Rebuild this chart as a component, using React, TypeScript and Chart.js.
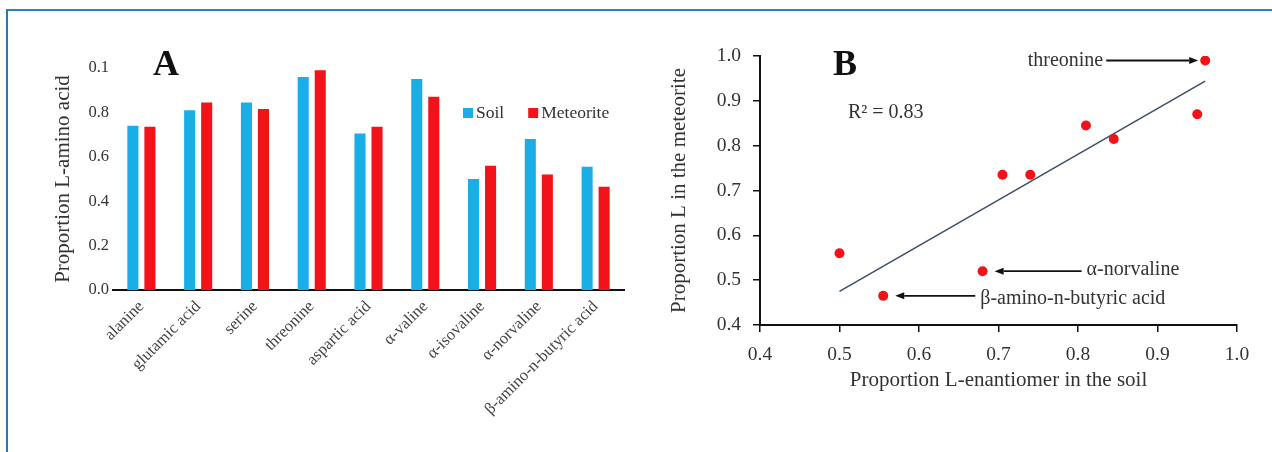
import React, { useEffect, useRef } from "react";
import { Chart, registerables } from "chart.js";

Chart.register(...registerables);

// ---------- data ----------
const categories = [
  "alanine",
  "glutamic acid",
  "serine",
  "threonine",
  "aspartic acid",
  "α-valine",
  "α-isovaline",
  "α-norvaline",
  "β-amino-n-butyric acid",
];
const soilValues = [0.74, 0.81, 0.845, 0.96, 0.705, 0.95, 0.5, 0.68, 0.555];
const meteoriteValues = [0.735, 0.845, 0.815, 0.99, 0.735, 0.87, 0.56, 0.52, 0.465];

const barTickValues = [0, 0.2, 0.4, 0.6, 0.8, 1.0];
const barTickLabels = ["0.0", "0.2", "0.4", "0.6", "0.8", "0.1"];

const scatterTickValues = [0.4, 0.5, 0.6, 0.7, 0.8, 0.9, 1.0];
const scatterTickLabels = ["0.4", "0.5", "0.6", "0.7", "0.8", "0.9", "1.0"];

const trendX = [0.5, 0.96];
const trendY = [0.475, 0.944];
const rSquaredText = "R² = 0.83";

const labeledPoints = ["threonine", "α-norvaline", "β-amino-n-butyric acid"];

// ---------- styles ----------
const SERIF = '"Liberation Serif", "Times New Roman", serif';
const SOIL_COLOR = "#1aaee6";
const MET_COLOR = "#f2121a";
const TEXT_COLOR = "#333333";

function drawArrow(ctx: CanvasRenderingContext2D, x1: number, y: number, x2: number) {
  const dir = Math.sign(x2 - x1);
  const head = 9;
  const half = 3.5;
  ctx.strokeStyle = "#111";
  ctx.fillStyle = "#111";
  ctx.lineWidth = 1.8;
  ctx.beginPath();
  ctx.moveTo(x1, y);
  ctx.lineTo(x2 - dir * head, y);
  ctx.stroke();
  ctx.beginPath();
  ctx.moveTo(x2, y);
  ctx.lineTo(x2 - dir * head, y - half);
  ctx.lineTo(x2 - dir * head, y + half);
  ctx.closePath();
  ctx.fill();
}

const panelAPlugin = {
  id: "panelA",
  afterDraw(chart: any) {
    const { ctx, chartArea } = chart;
    ctx.save();
    ctx.font = `bold 36px ${SERIF}`;
    ctx.fillStyle = "#111";
    ctx.textAlign = "center";
    ctx.textBaseline = "alphabetic";
    ctx.fillText("A", chartArea.left + 53, chartArea.top + 7);

    // legend
    const ly = chartArea.top + 45;
    const items = chart.data.datasets.map((d: any) => ({ label: d.label, color: d.backgroundColor }));
    let x = chartArea.left + 350;
    ctx.font = `17.5px ${SERIF}`;
    ctx.textAlign = "left";
    ctx.textBaseline = "middle";
    items.forEach((it: any) => {
      ctx.fillStyle = it.color;
      ctx.fillRect(x, ly - 5, 10, 10);
      ctx.fillStyle = TEXT_COLOR;
      ctx.fillText(it.label, x + 13, ly);
      x += 13 + ctx.measureText(it.label).width + 24;
    });
    ctx.restore();
  },
};

const panelBPlugin = {
  id: "panelB",
  afterDraw(chart: any) {
    const { ctx, chartArea } = chart;
    const xs = chart.scales.x;
    const ys = chart.scales.y;
    ctx.save();
    ctx.font = `bold 36px ${SERIF}`;
    ctx.fillStyle = "#111";
    ctx.textAlign = "center";
    ctx.textBaseline = "alphabetic";
    ctx.fillText("B", chartArea.left + 85, chartArea.top + 19);

    ctx.font = `20px ${SERIF}`;
    ctx.fillStyle = TEXT_COLOR;
    ctx.textAlign = "left";
    ctx.textBaseline = "middle";
    ctx.fillText(rSquaredText, chartArea.left + 88, chartArea.top + 57);

    labeledPoints.forEach((name) => {
      const i = categories.indexOf(name);
      const px = xs.getPixelForValue(soilValues[i]);
      const py = ys.getPixelForValue(meteoriteValues[i]);
      ctx.font = `20px ${SERIF}`;
      ctx.textBaseline = "middle";
      if (name === "threonine") {
        const tip = px - 7;
        const tail = tip - 92;
        drawArrow(ctx, tail, py, tip);
        ctx.fillStyle = TEXT_COLOR;
        ctx.textAlign = "right";
        ctx.fillText(name, tail - 3, py);
      } else {
        const isBeta = name.startsWith("β");
        const tip = px + 12;
        const tail = tip + (isBeta ? 80 : 87);
        drawArrow(ctx, tail, py, tip);
        ctx.fillStyle = TEXT_COLOR;
        ctx.textAlign = "left";
        ctx.fillText(name, tail + 5, py + (isBeta ? 3 : -1));
      }
    });
    ctx.restore();
  },
};

function PanelA() {
  const ref = useRef<HTMLCanvasElement>(null);
  useEffect(() => {
    if (!ref.current) return;
    const chart = new Chart(ref.current, {
      type: "bar",
      data: {
        labels: categories,
        datasets: [
          { label: "Soil", data: soilValues, backgroundColor: SOIL_COLOR, categoryPercentage: 0.6, barPercentage: 0.65 },
          { label: "Meteorite", data: meteoriteValues, backgroundColor: MET_COLOR, categoryPercentage: 0.6, barPercentage: 0.65 },
        ],
      },
      options: {
        animation: false,
        responsive: false,
        layout: { padding: { left: 47, right: 16, top: 68, bottom: 0 } },
        plugins: { legend: { display: false }, tooltip: { enabled: false } },
        scales: {
          x: {
            grid: { display: false, drawTicks: false },
            border: { display: true, color: "#111", width: 2 },
            ticks: {
              autoSkip: false,
              maxRotation: 45,
              minRotation: 45,
              padding: 7,
              color: "#444",
              font: { family: SERIF, size: 16.5 },
            },
            afterFit: (s: any) => {
              s.height = 162;
            },
          },
          y: {
            min: 0,
            max: 1,
            grid: { display: false, drawTicks: false },
            border: { display: false },
            afterBuildTicks: (s: any) => {
              s.ticks = barTickValues.map((v) => ({ value: v }));
            },
            ticks: {
              padding: 4,
              color: TEXT_COLOR,
              font: { family: SERIF, size: 16.5 },
              callback: (v: any) => barTickLabels[barTickValues.findIndex((t) => Math.abs(t - Number(v)) < 1e-6)],
            },
            title: {
              display: true,
              text: "Proportion L-amino acid",
              color: TEXT_COLOR,
              font: { family: SERIF, size: 21 },
            },
            afterFit: (s: any) => {
              s.width = 66;
            },
          },
        },
      },
      plugins: [panelAPlugin],
    } as any);
    return () => chart.destroy();
  }, []);
  return (
    <canvas
      ref={ref}
      width={640}
      height={452}
      style={{ position: "absolute", left: 0, top: 0, width: 640, height: 452 }}
    />
  );
}

function PanelB() {
  const ref = useRef<HTMLCanvasElement>(null);
  useEffect(() => {
    if (!ref.current) return;
    const points = soilValues.map((s, i) => ({ x: s, y: meteoriteValues[i] }));
    const trend = trendX.map((x, i) => ({ x, y: trendY[i] }));
    const chart = new Chart(ref.current, {
      type: "scatter",
      data: {
        datasets: [
          {
            label: "Amino acids",
            data: points,
            backgroundColor: MET_COLOR,
            borderWidth: 0,
            pointRadius: 5,
          },
          {
            type: "line",
            label: "Trend",
            data: trend,
            borderColor: "#3d4e62",
            borderWidth: 1.5,
            pointRadius: 0,
            showLine: true,
            fill: false,
          },
        ],
      },
      options: {
        animation: false,
        responsive: false,
        layout: { padding: { left: 23, right: 35, top: 56, bottom: 55 } },
        plugins: { legend: { display: false }, tooltip: { enabled: false } },
        scales: {
          x: {
            type: "linear",
            min: 0.4,
            max: 1.0,
            grid: { display: true, drawOnChartArea: false, drawTicks: true, tickLength: 7, color: "#111", lineWidth: 1.5 },
            border: { display: true, color: "#111", width: 2 },
            afterBuildTicks: (s: any) => {
              s.ticks = scatterTickValues.map((v) => ({ value: v }));
            },
            ticks: {
              padding: 11,
              color: TEXT_COLOR,
              font: { family: SERIF, size: 19.5 },
              callback: (v: any) => scatterTickLabels[scatterTickValues.findIndex((t) => Math.abs(t - Number(v)) < 1e-6)],
            },
            title: {
              display: true,
              text: "Proportion L-enantiomer in the soil",
              color: TEXT_COLOR,
              font: { family: SERIF, size: 21 },
            },
            afterFit: (s: any) => {
              s.height = 72;
            },
          },
          y: {
            type: "linear",
            min: 0.4,
            max: 1.0,
            grid: { display: true, drawOnChartArea: false, drawTicks: true, tickLength: 7, color: "#111", lineWidth: 1.5 },
            border: { display: true, color: "#111", width: 2 },
            afterBuildTicks: (s: any) => {
              s.ticks = scatterTickValues.map((v) => ({ value: v }));
            },
            ticks: {
              padding: 12,
              color: TEXT_COLOR,
              font: { family: SERIF, size: 19.5 },
              callback: (v: any) => scatterTickLabels[scatterTickValues.findIndex((t) => Math.abs(t - Number(v)) < 1e-6)],
            },
            title: {
              display: true,
              text: "Proportion L in the meteorite",
              color: TEXT_COLOR,
              font: { family: SERIF, size: 21 },
            },
            afterFit: (s: any) => {
              s.width = 97;
            },
          },
        },
      },
      plugins: [panelBPlugin],
    } as any);
    return () => chart.destroy();
  }, []);
  return (
    <canvas
      ref={ref}
      width={632}
      height={452}
      style={{ position: "absolute", left: 640, top: 0, width: 632, height: 452 }}
    />
  );
}

export default function App() {
  return (
    <div
      style={{
        position: "fixed",
        left: 0,
        top: 0,
        width: 1272,
        height: 452,
        background: "#ffffff",
        overflow: "hidden",
      }}
    >
      <div
        style={{
          position: "absolute",
          left: 6,
          top: 9,
          width: 1272,
          height: 460,
          borderTop: "2px solid #2f86ad",
          borderLeft: "2px solid #2c7aa2",
          boxSizing: "border-box",
        }}
      />
      <PanelA />
      <PanelB />
    </div>
  );
}
